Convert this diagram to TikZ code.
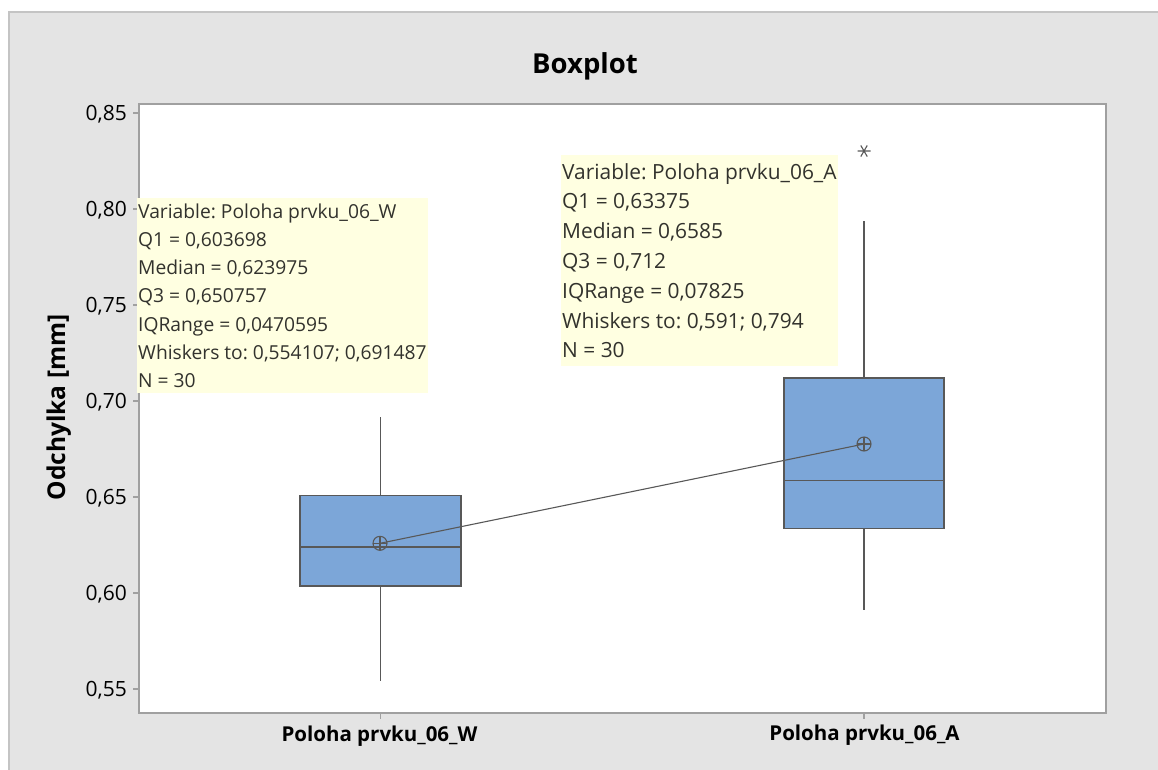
\documentclass[tikz,border=0pt]{standalone}
\usepackage{fontspec}
\setmainfont{Open Sans}
\frenchspacing
\definecolor{panelgrey}{RGB}{228,228,228}
\definecolor{panelline}{RGB}{196,196,196}
\definecolor{axisgrey}{RGB}{160,160,160}
\definecolor{boxblue}{RGB}{124,166,216}
\definecolor{boxline}{RGB}{88,88,88}
\definecolor{tipyellow}{RGB}{255,255,225}
\definecolor{tiptext}{RGB}{50,50,45}
\begin{document}
\begin{tikzpicture}[x=1pt,y=-1pt,
  panel/.style={fill=panelgrey, draw=panelline, line width=1.2pt},
  plotarea/.style={fill=white, draw=axisgrey, line width=1.3pt},
  tickmark/.style={draw=axisgrey, line width=1.2pt},
  ticklabel/.style={font=\fontsize{21}{25}\selectfont, text=black, anchor=base east, inner sep=0pt},
  catlabel/.style={font=\bfseries\fontsize{20.5}{24}\selectfont, text=black, anchor=base, inner sep=0pt},
  qbox/.style={draw=boxline, fill=boxblue, line width=1.3pt, inner sep=0pt},
  whisk/.style={draw=boxline, line width=1.3pt},
  meanline/.style={draw=boxline, line width=1.1pt},
  meanmark/.style={circle, draw=boxline, line width=1.1pt, minimum size=14pt, inner sep=0pt,
    path picture={\draw[boxline, line width=1.1pt]
      (path picture bounding box.north) -- (path picture bounding box.south)
      (path picture bounding box.west) -- (path picture bounding box.east);}},
  annot/.style={fill=tipyellow, text=tiptext, align=left, anchor=north west, inner xsep=1pt, inner ysep=0pt},
]
\useasboundingbox (0,0) rectangle (1158,769);

% background panel and plot area
\path[panel] (9,12) rectangle (1162,773);
\node[font=\bfseries\fontsize{27.5}{32}\selectfont, anchor=base, inner sep=0pt] (title) at (585,73.3) {Boxplot};
\path[plotarea] (139,104) rectangle (1106,713);

% y axis: value v sits at 689 - 1920 (v - 0.55)
\foreach \lab/\yy [count=\i] in {{0,55}/689, {0,60}/593, {0,65}/497, {0,70}/401, {0,75}/305, {0,80}/209, {0,85}/113} {
  \coordinate (yt\i) at (139,\yy);
  \draw[tickmark] (yt\i) -- ++(-6,0);
  \node[ticklabel] (ylab\i) at (127,\yy+7.5) {\lab};
}
\node[font=\bfseries\fontsize{24.5}{28}\selectfont, rotate=90, anchor=base, inner sep=0pt] (yaxis) at (65,407.5) {Odchylka [mm]};

% x axis categories
\coordinate (xtW) at (380.5,713);
\coordinate (xtA) at (864,713);
\draw[tickmark] (xtW) -- ++(0,6);
\draw[tickmark] (xtA) -- ++(0,6);
\node[catlabel] (xlW) at (379.5,741) {Poloha prvku\_06\_W};
\node[catlabel] (xlA) at (864.5,740) {Poloha prvku\_06\_A};

% whisker ends
\coordinate (wWhi) at (380.5,417.3);
\coordinate (wWlo) at (380.5,681.1);
\coordinate (wAhi) at (864,220.5);
\coordinate (wAlo) at (864,610.3);

% boxes (Q1 to Q3)
\node[qbox, minimum width=161pt, minimum height=90.4pt] (bW) at (380.5,540.7) {};
\node[qbox, minimum width=160pt, minimum height=150.2pt] (bA) at (864,453.1) {};
\draw[whisk] (bW.north) -- (wWhi);
\draw[whisk] (bW.south) -- (wWlo);
\draw[whisk] (bA.north) -- (wAhi);
\draw[whisk] (bA.south) -- (wAlo);

% medians
\draw[whisk] (bW.west |- 0,547) -- (bW.east |- 0,547);
\draw[whisk] (bA.west |- 0,480.7) -- (bA.east |- 0,480.7);

% outlier
\coordinate (outA) at (864,151);
\draw[draw=boxline, line width=1.1pt] (outA) ++(-6.5,0) -- ++(13,0)
  (outA) ++(-3.25,-5.6) -- ++(6.5,11.2)
  (outA) ++(3.25,-5.6) -- ++(-6.5,11.2);

% means
\node[meanmark] (mW) at (380,543.3) {};
\node[meanmark] (mA) at (864,444) {};
\draw[meanline] (mW.center) -- (mA.center);

% summary tooltips
\node[annot, minimum height=195pt, font=\fontsize{19.25}{28.1}\selectfont] (annW) at (137,198)
  {Variable: Poloha prvku\_06\_W\\Q1 = 0,603698\\Median = 0,623975\\Q3 = 0,650757\\IQRange = 0,0470595\\Whiskers to: 0,554107; 0,691487\\N = 30};
\node[annot, minimum height=211pt, font=\fontsize{20.9}{29.8}\selectfont] (annA) at (561,155)
  {Variable: Poloha prvku\_06\_A\\Q1 = 0,63375\\Median = 0,6585\\Q3 = 0,712\\IQRange = 0,07825\\Whiskers to: 0,591; 0,794\\N = 30};
\end{tikzpicture}
\end{document}
